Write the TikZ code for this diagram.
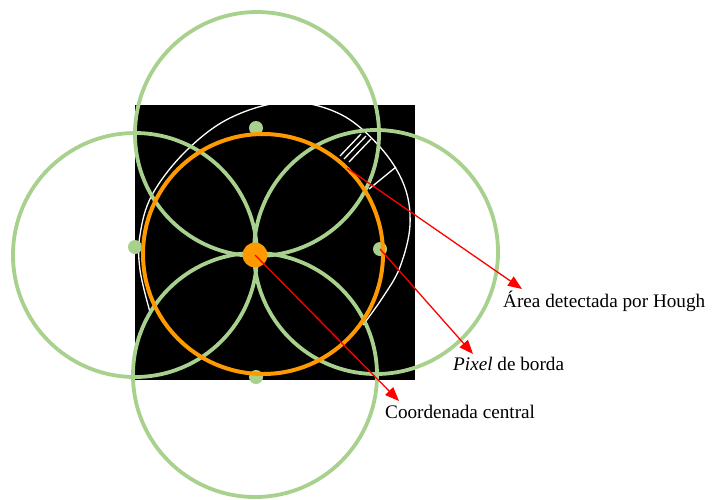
\documentclass[tikz,border=0pt]{standalone}
\usepackage{fontspec}
\setmainfont{Liberation Serif}
\usetikzlibrary{arrows.meta}
\definecolor{lgreen}{HTML}{A9D18E}
\definecolor{orng}{HTML}{FF9900}
\begin{document}
\begin{tikzpicture}[x=1pt,y=-1pt,
  greenring/.style={draw=lgreen,line width=3.8pt},
  greendot/.style={circle,fill=lgreen,inner sep=0pt,minimum size=14pt},
  orangedot/.style={circle,fill=orng,inner sep=0pt,minimum size=25pt},
  redarrow/.style={draw=red,line width=1.3pt,-{Triangle[length=14pt,width=11pt]}},
  hatch/.style={draw=white,line width=1.3pt},
  lbl/.style={anchor=base west,inner sep=0pt,font=\fontsize{19.2}{22}\selectfont}]
\useasboundingbox[fill=white] (0,0) rectangle (712,499);
% black image
\fill[black] (135,105) rectangle (415,380);
% white detected area
\draw[white,line width=1.3pt] plot[smooth,tension=0.6] coordinates {(150,312) (140,270) (140,235) (152,195) (185,152) (230,118) (287,102) (340,114) (380,147) (404,185) (410,225) (400,267) (383,297) (363,325)};
\draw[hatch] (340,156) -- (361,134);
\draw[hatch] (344,159) -- (366,136);
\draw[hatch] (349,162) -- (371,139);
\draw[hatch] (369,189) -- (396,167);
% green circles
\draw[greenring] (257,134) circle[radius=122pt];
\draw[greenring] (135,255) circle[radius=122pt];
\draw[greenring] (376,252) circle[radius=122pt];
\draw[greenring] (255,375) circle[radius=122pt];
% green dots (edge pixels)
\node[greendot] (tdot) at (256,128) {};
\node[greendot] (ldot) at (135,247) {};
\node[greendot] (rdot) at (380,249) {};
\node[greendot] (bdot) at (256,377) {};
% orange circle
\draw[orng,line width=4pt] (263,254) circle[radius=120pt];
\node[orangedot] (cdot) at (255,255) {};
% arrows
\coordinate (hough) at (347,168);
\coordinate (houghtip) at (522,289);
\coordinate (pixtip) at (473,354);
\coordinate (centip) at (399,401);
\draw[redarrow] (hough) -- (houghtip);
\draw[redarrow] (rdot.center) -- (pixtip);
\draw[redarrow] (cdot.center) -- (centip);
% labels
\node[lbl] (lhough) at (503,307) {Área detectada por Hough};
\node[lbl] (lpix) at (453,370) {\textit{Pixel} de borda};
\node[lbl] (lcen) at (385,418) {Coordenada central};
\end{tikzpicture}
\end{document}
